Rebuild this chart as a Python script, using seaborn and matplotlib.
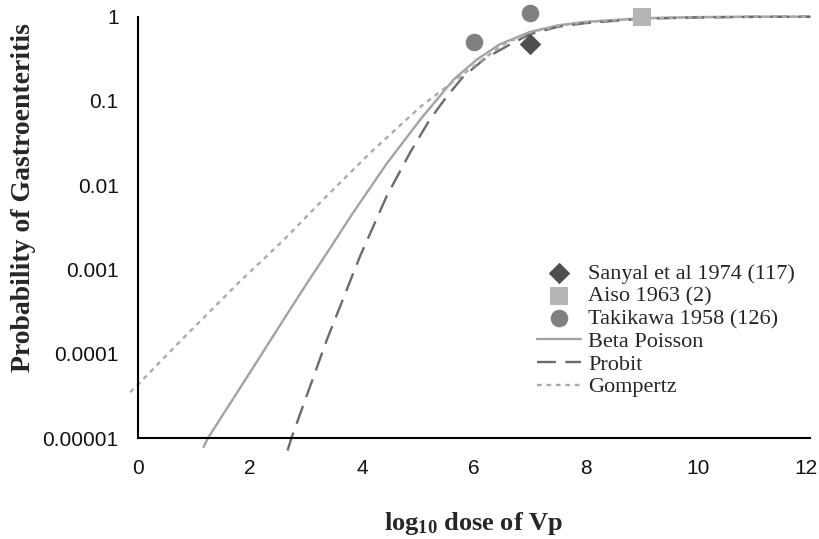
import matplotlib
matplotlib.use("Agg")
import matplotlib.pyplot as plt
import matplotlib.transforms as mtransforms
import seaborn as sns

# ---- data ----
sanyal_x = [7.0]
sanyal_y = [0.47]
aiso_x = [9.0]
aiso_y = [1.0]
taki_x = [6.0, 7.0]
taki_y = [0.50, 1.10]

beta_x = [1.17, 1.25, 2.0, 2.5, 3.0, 3.28, 3.84, 4.44, 5.04, 5.63, 6.05, 6.46, 7.0, 7.5, 8.0, 9.0, 10.0, 11.0, 12.0]
beta_y = [7.8e-6, 1.0e-5, 6.0e-5, 2.0e-4, 6.6e-4, 1.26e-3, 4.7e-3, 0.018, 0.060, 0.178, 0.31, 0.47, 0.66, 0.79, 0.87, 0.96, 0.99, 0.998, 1.0]

probit_x = [2.67, 2.74, 3.37, 3.96, 4.44, 4.86, 5.21, 5.51, 5.81, 6.2, 6.67, 7.0, 7.5, 8.0, 9.0, 10.0, 11.0, 12.0]
probit_y = [7.1e-6, 1.0e-5, 1.45e-4, 1.41e-3, 7.4e-3, 0.0245, 0.060, 0.112, 0.195, 0.32, 0.48, 0.62, 0.76, 0.84, 0.945, 0.98, 0.995, 1.0]

gomp_x = [-0.14, 0.0, 0.75, 1.79, 2.59, 3.25, 4.14, 5.04, 5.75, 6.05, 6.5, 7.0, 7.5, 8.0, 9.0, 10.0, 11.0, 12.0]
gomp_y = [3.5e-5, 4.3e-5, 1.4e-4, 6.9e-4, 2.2e-3, 6.2e-3, 0.024, 0.085, 0.195, 0.275, 0.46, 0.65, 0.78, 0.86, 0.955, 0.986, 0.998, 1.0]

x_ticks = [0, 2, 4, 6, 8, 10, 12]
y_ticks = [1e-5, 1e-4, 1e-3, 1e-2, 1e-1, 1]
y_tick_labels = ["0.00001", "0.0001", "0.001", "0.01", "0.1", "1"]

# ---- style ----
sns.set_theme(style="white")
plt.rcParams["font.family"] = ["Liberation Sans", "DejaVu Sans"]
plt.rcParams["mathtext.default"] = "regular"

fig = plt.figure(figsize=(8.19, 5.39), dpi=100)
ax = fig.add_axes([138/819, 1-438/539, 672/819, (438-16.7)/539])

# lines
sns.lineplot(x=beta_x, y=beta_y, ax=ax, color="#a3a3a3", linewidth=1.7,
             label="Beta Poisson", clip_on=False, estimator=None)
sns.lineplot(x=probit_x, y=probit_y, ax=ax, color="#6b6b6b", linewidth=1.7,
             linestyle=(0, (8, 4)), label="Probit", clip_on=False, estimator=None)
sns.lineplot(x=gomp_x, y=gomp_y, ax=ax, color="#ababab", linewidth=1.7,
             linestyle=(0, (2, 2)), label="Gompertz", clip_on=False, estimator=None)

# points
sns.scatterplot(x=sanyal_x, y=sanyal_y, ax=ax, marker="D", s=120, color="#4f4f4f",
                linewidth=0, label="Sanyal et al 1974 (117)", clip_on=False, zorder=5)
sns.scatterplot(x=aiso_x, y=aiso_y, ax=ax, marker="s", s=160, color="#b5b5b5",
                linewidth=0, label="Aiso 1963 (2)", clip_on=False, zorder=5)
sns.scatterplot(x=taki_x, y=taki_y, ax=ax, marker="o", s=160, color="#808080",
                linewidth=0, label="Takikawa 1958 (126)", clip_on=False, zorder=5)

ax.set_yscale("log")
ax.set_xlim(0, 12)
ax.set_ylim(1e-5, 1)
ax.set_xticks(x_ticks)
ax.set_xticklabels([str(t) for t in x_ticks])
ax.set_yticks(y_ticks)
ax.set_yticklabels(y_tick_labels)
ax.yaxis.set_minor_locator(matplotlib.ticker.NullLocator())
ax.grid(False)

for s in ["top", "right"]:
    ax.spines[s].set_visible(False)
for s in ["left", "bottom"]:
    ax.spines[s].set_color("black")
    ax.spines[s].set_linewidth(1.5)

ax.tick_params(axis="both", which="major", direction="out", length=6, width=1.5,
               color="black", labelsize=15, labelcolor="#111111")
ax.tick_params(axis="y", pad=8)
ax.tick_params(axis="x", pad=9, length=6)

# keep the last x tick label inside the figure
last = ax.get_xticklabels()[-1]
last.set_transform(last.get_transform() + mtransforms.ScaledTranslation(-4/100, 0, fig.dpi_scale_trans))

serif = ["Liberation Serif", "DejaVu Serif"]
ax.set_ylabel("Probability of Gastroenteritis", family=serif, fontsize=20, fontweight="bold")
ax.set_xlabel(r"log$_{10}$ dose of Vp", family=serif, fontsize=19, fontweight="bold")
ax.yaxis.set_label_coords(-0.152, 0.57)
ax.xaxis.set_label_coords(0.5, -0.172)

handles, labels = ax.get_legend_handles_labels()
order = ["Sanyal et al 1974 (117)", "Aiso 1963 (2)", "Takikawa 1958 (126)",
         "Beta Poisson", "Probit", "Gompertz"]
hmap = dict(zip(labels, handles))
leg = ax.legend([hmap[o] for o in order], order, loc="upper left",
                bbox_to_anchor=(537/819, 1-263/539), bbox_transform=fig.transFigure,
                frameon=False, borderpad=0, borderaxespad=0, handlelength=2.0,
                handletextpad=0.3, labelspacing=0.1, scatterpoints=1,
                prop={"family": serif, "size": 16})

fig.savefig("out.png", dpi=100)
